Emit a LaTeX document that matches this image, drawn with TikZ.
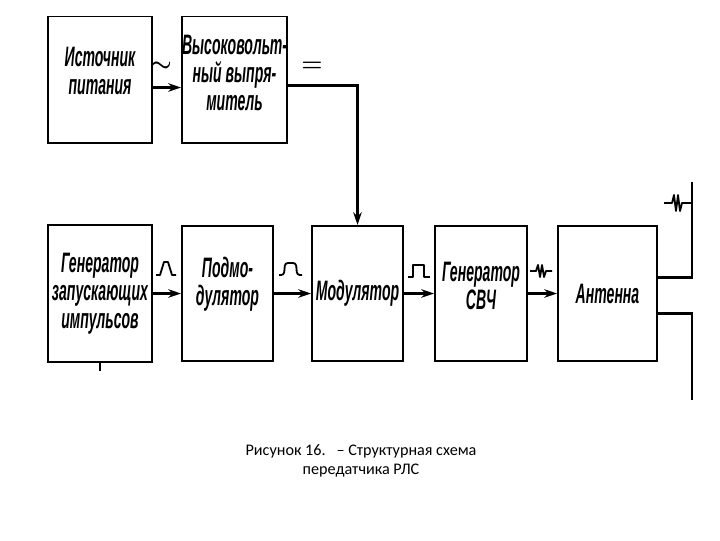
\documentclass[tikz,border=0pt]{standalone}
\usepackage{fontspec}
\setmainfont{Carlito}
\newfontfamily\blkfont[FakeStretch=0.5]{Liberation Sans}
\usetikzlibrary{arrows.meta,positioning}

\begin{document}
\begin{tikzpicture}[
    x=0.025cm, y=-0.025cm,
    blk/.style={draw, line width=1.4pt, minimum width=2.6cm, minimum height=3.375cm, align=center, inner sep=0pt,
        font=\blkfont\fontsize{20}{20}\selectfont\bfseries\itshape},
    toprow/.style={blk, minimum height=3.15cm},
    arr/.style={-{Stealth[length=9pt,width=6pt]}, line width=2pt},
    feed/.style={line width=2pt},
    sig/.style={line width=1.3pt, line join=round},
    sym/.style={font=\fontsize{19}{19}\selectfont\boldmath, inner sep=0pt}
]
\useasboundingbox (0,0) rectangle (720,540);
% Top row
\node[toprow] (src) at (100,79.5) {Источник\\питания\\[-8pt]};
\node[toprow, right=0.7cm of src, minimum width=2.625cm] (rect) {Высоковольт-\\ный выпря-\\митель\\[-10pt]};
% Bottom row
\node[blk, minimum height=3.425cm] (gen) at (100,293.5) {Генератор\\запускающих\\импульсов};
\node[blk, right=0.7cm of gen, minimum width=2.275cm] (sub) {Подмо-\\дулятор\\[-3pt]};
\node[blk, right=0.925cm of sub, minimum width=2.275cm] (mod) {Модулятор};
\node[blk, right=0.75cm of mod, minimum width=2.3cm] (mw) {Генератор\\СВЧ\\[-9pt]};
\node[blk, right=0.725cm of mw, minimum width=2.475cm] (ant) {Антенна};
% Free ends of the feeder
\coordinate (feedup) at (692,182);
\coordinate (feeddn) at (692,400);
% Connectors
\draw[arr] ([yshift=-0.2cm]src.east) -- ([yshift=-0.2cm]rect.west);
\draw[arr] ([yshift=-0.15cm]rect.east) -| (mod.north);
\draw[arr] (gen) -- (sub);
\draw[arr] (sub) -- (mod);
\draw[arr] (mod) -- (mw);
\draw[arr] (mw) -- (ant);
\draw[feed] ([yshift=0.39cm]ant.east) -| (feedup);
\draw[feed] ([yshift=-0.49cm]ant.east) -| (feeddn);
\draw[line width=1.2pt] (gen.south) -- ++(0,8);
% Signal marks
\node[sym] (ac) at (161,67) {$\sim$};
\node[sym] (dc) at (312,67) {$=$};
\draw[sig] (156,275) -- (160,275) -- (164,262) -- (168,262) -- (172,275) -- (176,275);
\draw[sig, rounded corners=2pt] (279,275) -- (284,275) -- (285,263) -- (296,263) -- (297,275) -- (302,275);
\draw[sig] (408,277) -- (413,277) -- (413,265) -- (424,265) -- (424,277) -- (430,277);
\draw[sig] (530,271) -- (536,271) -- (538,265) -- (540,277) -- (542,265) -- (544,277) -- (546,271) -- (552,271);
\draw[sig] (664,203) -- (672,203) -- (674,195) -- (676,211) -- (678,195) -- (680,211) -- (682,203) -- (692,203);
% Caption
\node[align=center, font=\fontsize{11.5}{14}\selectfont] (cap) at (361,461) {Рисунок 16.\ \ \ – Структурная схема\\передатчика РЛС};
\end{tikzpicture}
\end{document}
